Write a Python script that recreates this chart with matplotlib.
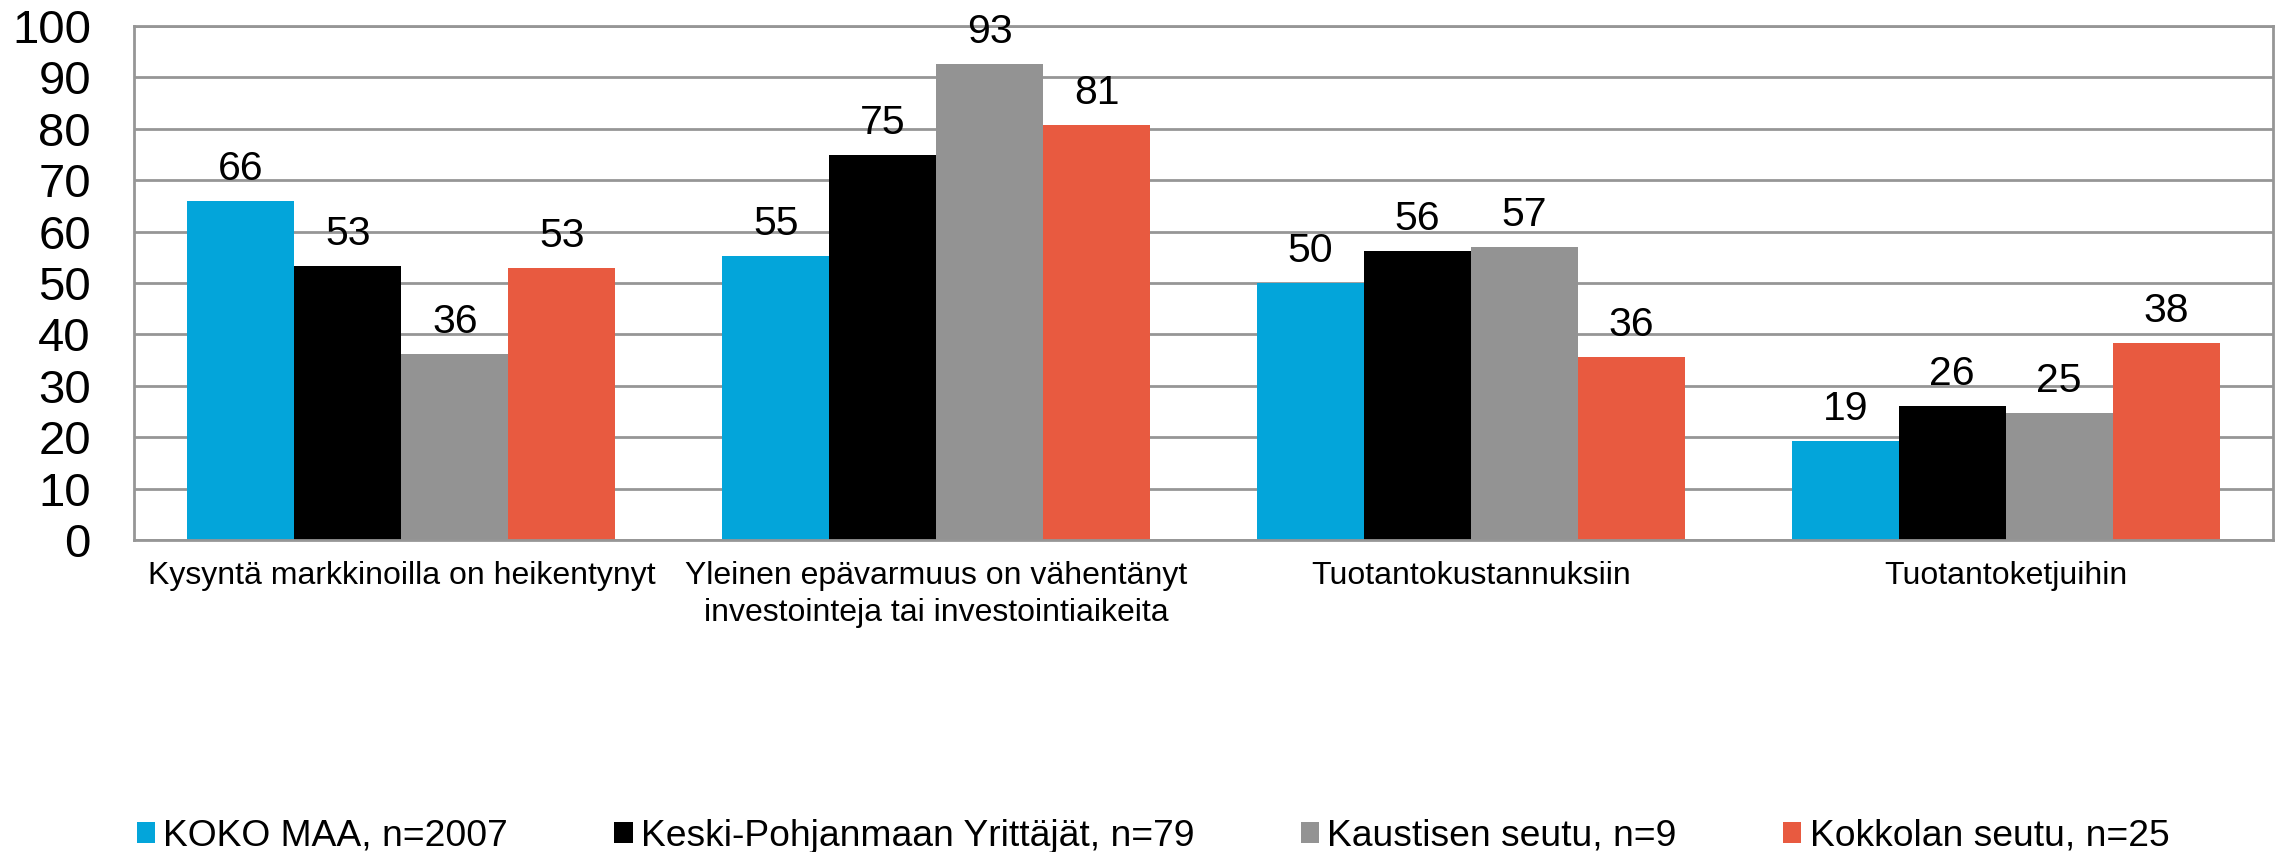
import matplotlib
matplotlib.use("Agg")
import matplotlib.pyplot as plt
import numpy as np

plt.rcParams['font.family'] = ['Liberation Sans', 'DejaVu Sans']

categories = ["Kysyntä markkinoilla on heikentynyt",
              "Yleinen epävarmuus on vähentänyt\ninvestointeja tai investointiaikeita",
              "Tuotantokustannuksiin",
              "Tuotantoketjuihin"]
series_names = ["KOKO MAA, n=2007", "Keski-Pohjanmaan Yrittäjät, n=79",
                "Kaustisen seutu, n=9", "Kokkolan seutu, n=25"]
koko_maa = [66.0, 55.3, 50.0, 19.3]
keski_pohjanmaa = [53.3, 75.0, 56.2, 26.1]
kaustinen = [36.2, 92.6, 57.1, 24.8]
kokkola = [53.0, 80.7, 35.7, 38.4]
yticks = [0, 10, 20, 30, 40, 50, 60, 70, 80, 90, 100]

colors = ["#03A5DA", "#000000", "#939393", "#E85A40"]
series = [koko_maa, keski_pohjanmaa, kaustinen, kokkola]

W, H = 2283, 852
fig = plt.figure(figsize=(W / 100, H / 100), dpi=100)
ax = fig.add_axes([134 / W, 1 - 540 / H, (2273 - 134) / W, (540 - 26) / H])

x = np.arange(len(categories))
bw = 0.2
for i, (vals, c, name) in enumerate(zip(series, colors, series_names)):
    pos = x - 0.3 + i * bw
    bars = ax.bar(pos, vals, bw, color=c, label=name, zorder=2)
    for b, v in zip(bars, vals):
        ax.annotate(f"{v:.0f}", (b.get_x() + b.get_width() / 2, v),
                    xytext=(0, 15), textcoords="offset points",
                    ha="center", va="baseline", fontsize=29.5, zorder=3)

ax.set_xlim(-0.5, len(categories) - 0.5)
ax.set_ylim(0, 100)
ax.set_yticks(yticks)
ax.set_yticklabels([str(t) for t in yticks], fontsize=34)
ax.set_xticks(x)
ax.set_xticklabels(categories, fontsize=23, linespacing=1.3)
ax.tick_params(axis="y", length=0, pad=31)
ax.tick_params(axis="x", length=0, pad=15)
ax.grid(axis="y", color="#969696", linewidth=2, zorder=0)
ax.set_axisbelow(True)
for s in ax.spines.values():
    s.set_color("#969696")
    s.set_linewidth(2)

fig.legend(loc="center", bbox_to_anchor=(1153 / W, 1 - 836 / H), ncol=4,
           frameon=False, fontsize=26.8, handlelength=0.5, handleheight=0.5,
           handletextpad=0.22, columnspacing=2.85, borderpad=0, borderaxespad=0)

fig.savefig("out.png", dpi=100)
